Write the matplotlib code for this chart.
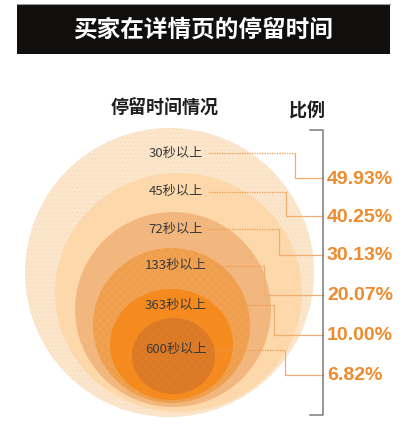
import matplotlib
matplotlib.use("Agg")
import matplotlib.pyplot as plt
from matplotlib.patches import Ellipse, Rectangle

plt.rcParams['font.family'] = ['Noto Sans CJK SC', 'DejaVu Sans']
plt.rcParams['hatch.linewidth'] = 0.5

# data
title = "买家在详情页的停留时间"
left_head = "停留时间情况"
right_head = "比例"
seconds = [30, 45, 72, 133, 363, 600]
shares = [49.93, 40.25, 30.13, 20.07, 10.00, 6.82]

# layout (pixel coords, y grows downward)
centers = [(169.5, 272.5), (178.5, 292.5), (173, 309.5), (171.5, 325.5), (171.5, 344.5), (173.5, 356)]
sizes = [(289, 289), (247, 239), (196, 195), (157, 155), (123, 111), (83, 76)]
fills = ['#FBE6CC', '#FDD8AA', '#F2B77E', '#F0A152', '#F58A1F', '#DD7C24']
hatches = ['....', None, None, 'xxxx', None, 'xxxx']
hatch_cols = ['#F7DCBA', None, None, '#EE9C48', None, '#D7772A']
label_y = [153, 192, 229, 266, 305, 350]
turn_x = [295, 286, 279, 264, 274, 285]
pct_y = [178, 216, 255, 295, 335, 375]
start_x = [209, 209, 209, 212, 212, 212]
bracket_x = 322.5

fig = plt.figure(figsize=(4.03, 4.34), dpi=100)
ax = fig.add_axes([0, 0, 1, 1])
ax.set_xlim(0, 403)
ax.set_ylim(434, 0)
ax.axis('off')

# title bar
ax.add_patch(Rectangle((17, 4), 373, 50, facecolor='#100f0d', edgecolor='none'))
ax.plot([17, 390], [4.3, 4.3], color='#9a9a9a', lw=0.8)
ax.text(203.5, 30, title, color='white', fontsize=17, fontweight='bold',
        ha='center', va='center')

ax.text(165, 108, left_head, fontsize=13, fontweight='bold', color='#1e1e1e',
        ha='center', va='center')
ax.text(307, 110, right_head, fontsize=13, fontweight='bold', color='#1e1e1e',
        ha='center', va='center')

# circles
for i in range(len(seconds)):
    (cx, cy), (w, h) = centers[i], sizes[i]
    ax.add_patch(Ellipse((cx, cy), w, h, facecolor=fills[i], edgecolor='none', zorder=2 + i))
    if hatches[i]:
        ax.add_patch(Ellipse((cx, cy), w, h, facecolor='none', edgecolor=hatch_cols[i],
                             hatch=hatches[i], lw=0, zorder=2 + i))

# labels and leader lines
for i, s in enumerate(seconds):
    ax.text(176, label_y[i], f"{s}秒以上", fontsize=9.5, color='#3a3a3a',
            ha='center', va='center', zorder=20)
    ax.plot([start_x[i], turn_x[i]], [label_y[i], label_y[i]], color='#EE9A4A',
            lw=0.9, ls=(0, (1, 1)), zorder=20)
    ax.plot([turn_x[i], turn_x[i], bracket_x], [label_y[i], pct_y[i], pct_y[i]],
            color='#F0AE72', lw=0.9, zorder=20)
    ax.text(327, pct_y[i] + 1, f"{shares[i]:.2f}%", fontsize=14, fontweight='bold',
            family=['Liberation Sans', 'DejaVu Sans'], color='#EE8B2C',
            ha='left', va='center', zorder=20)

# bracket
ax.plot([310, bracket_x, bracket_x, 310], [130, 130, 415, 415], color='#7a7a7a',
        lw=1.1, zorder=21)

fig.savefig('out.png', dpi=100)
